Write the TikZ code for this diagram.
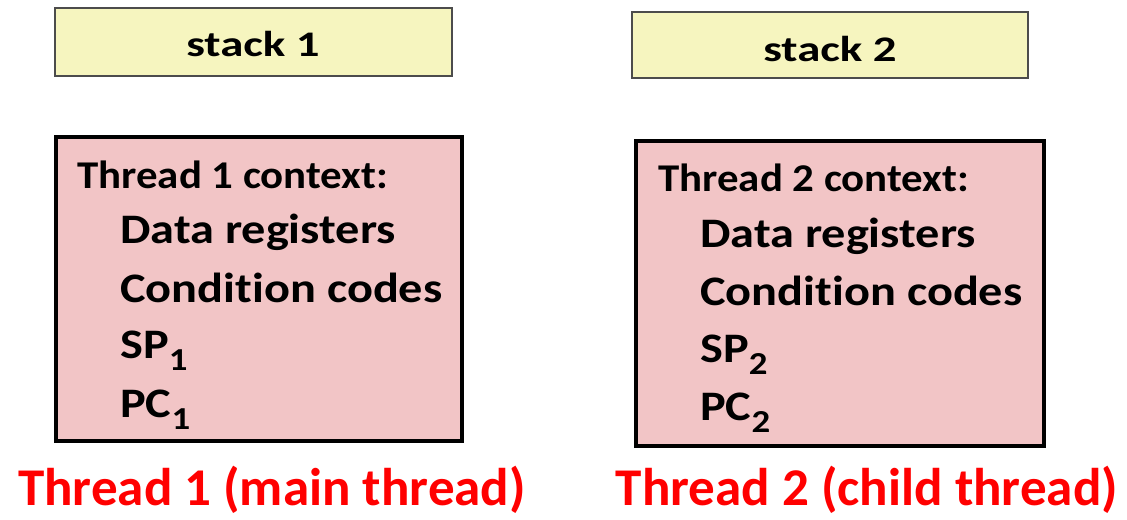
\documentclass[tikz,border=0pt]{standalone}
\usepackage{fontspec}
\setmainfont{Carlito}[Ligatures=NoCommon]
\newfontfamily\stackfont{Carlito}[Ligatures=NoCommon, FakeStretch=1.30]
\newfontfamily\headfont{Carlito}[Ligatures=NoCommon, FakeStretch=1.09]
\newfontfamily\itemfont{Carlito}[Ligatures=NoCommon, FakeStretch=1.15]
\usepackage{tikz}

\definecolor{stackyel}{HTML}{F6F5BF}
\definecolor{ctxpink}{HTML}{F2C5C6}
\definecolor{thrred}{HTML}{FF0000}

% lowered register index
\newcommand{\regidx}[1]{\raisebox{-9pt}{\fontsize{24}{24}\selectfont #1}}

\begin{document}
\begin{tikzpicture}[x=0.75pt, y=-0.75pt,
    stackbox/.style={fill=stackyel, draw=black!70, line width=1pt},
    ctxbox/.style={fill=ctxpink, draw=black, line width=3pt},
    stacklbl/.style={anchor=base, inner sep=0pt, font=\stackfont\fontsize{27}{30}\selectfont\bfseries},
    ctxhead/.style={anchor=base west, inner sep=0pt, font=\headfont\fontsize{29.5}{32}\selectfont\bfseries},
    ctxitem/.style={anchor=base west, inner sep=0pt, font=\itemfont\fontsize{31.5}{36}\selectfont\bfseries},
    thrlbl/.style={anchor=base, inner sep=0pt, text=thrred, font=\fontsize{39.8}{46}\selectfont\bfseries}]
        \useasboundingbox (0,0) rectangle (1127,519);
        % stacks
        \draw[stackbox] (55,8) rectangle (452,76);
        \node[stacklbl] (stacka) at (253,56) {stack 1};
        \draw[stackbox] (632,12) rectangle (1028,78);
        \node[stacklbl] (stackb) at (830,61) {stack 2};
        % thread 1 context
        \draw[ctxbox] (56,137) rectangle (462,441);
        \node[ctxhead] (heada) at (77,188) {Thread 1 context:};
        \node[ctxitem] (dataa) at (120,243) {Data registers};
        \node[ctxitem] (conda) at (120,302) {Condition codes};
        \node[ctxitem] (spa) at (120,358) {SP\regidx{1}};
        \node[ctxitem] (pca) at (120,417) {PC\regidx{1}};
        % thread 2 context
        \draw[ctxbox] (636,141) rectangle (1044,446);
        \node[ctxhead] (headb) at (658,191) {Thread 2 context:};
        \node[ctxitem] (datab) at (700,247) {Data registers};
        \node[ctxitem] (condb) at (700,305) {Condition codes};
        \node[ctxitem] (spb) at (700,362) {SP\regidx{2}};
        \node[ctxitem] (pcb) at (700,420) {PC\regidx{2}};
        % labels
        \node[thrlbl] (thra) at (272,505) {Thread 1 (main thread)};
        \node[thrlbl] (thrb) at (867,505) {Thread 2 (child thread)};
    \end{tikzpicture}
\end{document}
